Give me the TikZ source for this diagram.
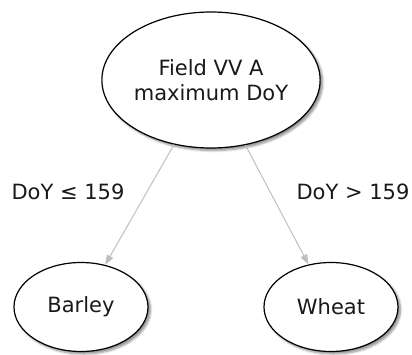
\documentclass[tikz,border=0pt]{standalone}
\usepackage{fontspec}
\setmainfont{DejaVu Sans}
\usetikzlibrary{shapes.geometric}
\usetikzlibrary{shadows.blur}
\usetikzlibrary{arrows.meta}

\begin{document}
\begin{tikzpicture}[
    x=1pt, y=-1pt,
    every node/.style={color=black!90, font=\fontsize{21}{25}\selectfont},
    decision/.style={ellipse, draw=black, line width=1.2pt, fill=white, inner sep=0pt, align=center,
        blur shadow={shadow xshift=2.5pt, shadow yshift=-2.5pt, shadow blur steps=6, shadow opacity=45}},
    branch/.style={-{Triangle[length=10pt, width=7pt]}, line width=1pt, color=black!25},
    rule label/.style={inner sep=0pt}
    ]

    \useasboundingbox (0,0) rectangle (412,354);

    % root and leaves
    \node[decision, minimum width=214pt, minimum height=136pt] (root) at (211,80) {Field VV A\\maximum DoY};
    \node[decision, minimum width=134pt, minimum height=89pt] (barley) at (81,307) {Barley};
    \node[decision, minimum width=134pt, minimum height=89pt] (wheat) at (331,307) {Wheat};

    % split on DoY
    \draw[branch] (root) -- (barley);
    \draw[branch] (root) -- (wheat);
    \node[rule label] (lower) at (68,192) {DoY ≤ 159};
    \node[rule label] (upper) at (353,192) {DoY > 159};

\end{tikzpicture}
\end{document}
